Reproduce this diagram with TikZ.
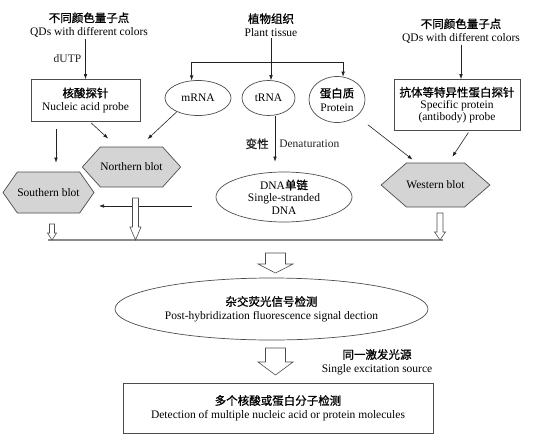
\documentclass[tikz,border=0pt]{standalone}
\usepackage{fontspec}
\setmainfont{Liberation Serif}
\newfontfamily\cjk{Noto Sans CJK SC}[FakeBold=1]
\usepackage{tikz}
\usetikzlibrary{arrows.meta, positioning, shapes.geometric, shapes.symbols}
\definecolor{ink}{HTML}{222222}
\definecolor{frame}{HTML}{4D4D4D}
\definecolor{blotfill}{HTML}{D4D4D4}
\definecolor{rail}{HTML}{8C8C8C}
\newcommand{\zh}[1]{{\cjk\fontsize{11.5}{13.5}\selectfont #1}}
% x, top, head start, tip, shaft half width, head half width
\newcommand{\openarrow}[6]{%
  \draw[frame, line width=0.6pt, fill=white] ({#1-#5},#2) -- ({#1+#5},#2) -- ({#1+#5},#3)
    -- ({#1+#6},#3) -- (#1,#4) -- ({#1-#6},#3) -- ({#1-#5},#3) -- cycle;}
\tikzset{
  lbl/.style={align=center, font=\fontsize{11.5}{13.5}\selectfont, inner sep=1pt},
  probebox/.style={lbl, draw=frame, line width=0.7pt},
  oval/.style={lbl, draw=frame, ellipse, line width=0.7pt, inner sep=0pt},
  blot/.style={lbl, signal, signal to=east and west, draw=frame, fill=blotfill, line width=0.7pt, inner sep=0pt},
  link/.style={ink, line width=0.6pt, -{Latex[length=5pt,width=3.6pt]}},
}

\begin{document}
\begin{tikzpicture}[x=1pt, y=-1pt]
    \useasboundingbox (0,0) rectangle (540,444);
    % sources
    \node[lbl] (qdL) at (89,25) {\zh{不同颜色量子点}\\QDs with different colors};
    \node[lbl] (tissue) at (271,25) {\zh{植物组织}\\Plant tissue};
    \node[lbl] (qdR) at (461,31) {\zh{不同颜色量子点}\\QDs with different colors};
    % probes and extracts
    \node[probebox, minimum width=109pt, minimum height=42pt] (probeL) at (85.5,100.5) {\zh{核酸探针}\\Nucleic acid probe};
    \node[probebox, minimum width=126pt, minimum height=51pt, font=\fontsize{11.5}{12}\selectfont] (probeR) at (457,105) {\zh{抗体等特异性蛋白探针}\\Specific protein\\(antibody) probe};
    \node[oval, minimum width=66pt, minimum height=35pt] (mRNA) at (198,98) {mRNA};
    \node[oval, minimum width=53pt, minimum height=35pt] (tRNA) at (268.5,98) {tRNA};
    \node[oval, minimum width=56pt, minimum height=46pt] (protein) at (337,99.5) {\zh{蛋白质}\\Protein};
    % blots
    \node[blot, minimum width=85pt, minimum height=41pt, signal pointer angle=110] (southern) at (48.5,192.5) {Southern blot};
    \node[blot, minimum width=85pt, minimum height=40pt, signal pointer angle=96] (northern) at (131.5,167) {Northern blot};
    \node[blot, minimum width=101pt, minimum height=44pt, signal pointer angle=82] (western) at (435.5,185) {Western blot};
    \node[oval, minimum width=136pt, minimum height=50pt, font=\fontsize{11.5}{12.5}\selectfont] (ssDNA) at (284,197) {DNA\zh{单链}\\Single-stranded\\DNA};
    % detection
    \node[oval, minimum width=313pt, minimum height=62pt] (detect) at (271.5,309) {\zh{杂交荧光信号检测}\\Post-hybridization fluorescence signal dection};
    \node[lbl] (source) at (377,362) {\zh{同一激发光源}\\Single excitation source};
    \node[probebox, minimum width=310pt, minimum height=50pt] (result) at (278,408) {\zh{多个核酸或蛋白分子检测}\\Detection of multiple nucleic acid or protein molecules};

    \coordinate (split) at (271,62);
    \coordinate (sx) at (56,0);
    \coordinate (dn) at ([xshift=6.5pt]tRNA.south);
    \coordinate (dnaout) at (192,206);
    \coordinate (dnain) at (99,206);

    \draw[link] (qdL.south -| probeL.north) -- (probeL.north) node[midway, left=3pt, lbl] {dUTP};
    \draw[link] (tissue.south) -- (tissue.south |- tRNA.north);
    \draw[link] (split) -| (mRNA.110);
    \draw[link] (split) -| (protein.75);
    \draw[link] (qdR) -- (qdR |- probeR.north);
    \draw[link, shorten <=7pt, shorten >=9pt] (probeL.south -| sx) -- (southern.north -| sx);
    \draw[link, shorten <=1.5pt, shorten >=12pt] ([xshift=4.5pt]probeL.south) -- ([xshift=-14.5pt]northern.north);
    \draw[link, shorten >=11pt] (mRNA.213) -- ([xshift=8pt]northern.north);
    \draw[link, shorten <=14pt, shorten >=5pt] (protein.320) -- ([xshift=-19pt]western.north);
    \draw[link, shorten <=2pt, shorten >=7pt] ([xshift=12.5pt]probeR.south) -- ([xshift=13pt]western.north);
    \draw[link, shorten >=10pt] (dn) -- (dn |- ssDNA.north)
        node[midway, left=5pt, lbl] {\zh{变性}} node[midway, right=3pt, lbl] {Denaturation};
    \draw[link] (dnaout) -- (dnain);

    \draw[rail, line width=1.3pt] (48,240) -- (443,240);
    \openarrow{52}{224}{233}{240}{2.5}{4.5}
    \openarrow{135.5}{198}{227}{240}{3}{5.5}
    \openarrow{440}{213}{232}{240}{3}{5.5}
    \openarrow{275.5}{253}{264}{273}{10}{17.5}
    \openarrow{275.5}{348}{362}{375}{10}{17.5}
\end{tikzpicture}
\end{document}
